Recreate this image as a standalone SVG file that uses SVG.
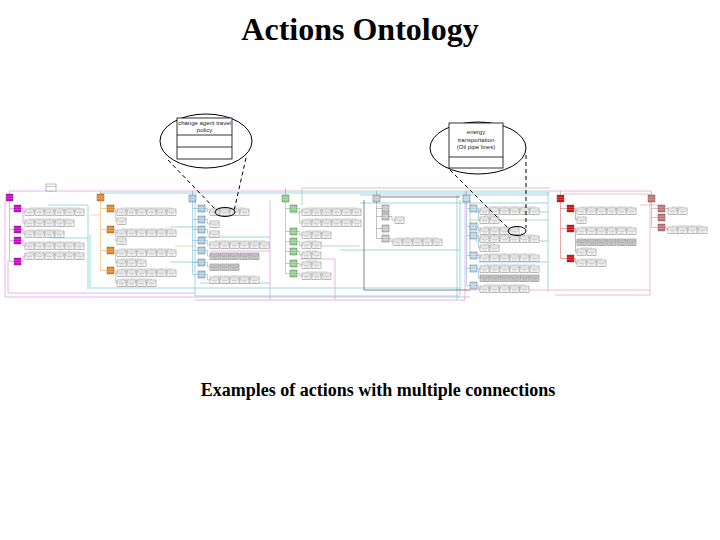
<svg xmlns="http://www.w3.org/2000/svg" width="720" height="540" viewBox="0 0 720 540">
<style>
.t{font-family:"Liberation Serif","Times New Roman",serif;font-weight:bold;fill:#000}
.ct{font-family:"Liberation Sans",Arial,sans-serif;font-size:6px;fill:#222;text-anchor:middle}
.ln{fill:none;stroke-width:0.8}
.pk{stroke:#e2a2e2}
.cy{stroke:#7fcfdc}
.dk{stroke:#666}
.gr{stroke:#9fd49f}
.rd{stroke:#eeb0b0}
.or{stroke:#f3c98f}
.tr{fill:none;stroke-width:0.6}
.co{fill:#fff;stroke:#000;stroke-width:1}
.dash{fill:none;stroke:#000;stroke-width:1;stroke-dasharray:4 3}
</style>
<defs>
<g id="nd"><rect width="7" height="7" fill="currentColor" stroke="#555" stroke-width="0.4"/><path d="M0 2.3H7M0 4.6H7" stroke="#fff" stroke-width="0.4" opacity="0.6"/></g>
<g id="b"><rect width="9" height="6.5" fill="#fff" stroke="#777" stroke-width="0.5"/><path d="M0 2H9" stroke="#777" stroke-width="0.4"/><path d="M1.5 3.5H7.5M2 5H7" stroke="#bbb" stroke-width="0.7"/></g>
<g id="bg"><rect width="9" height="6.5" fill="#d0d0d0" stroke="#777" stroke-width="0.5"/><path d="M0 2H9" stroke="#777" stroke-width="0.4"/><path d="M1.5 3.5H7.5M2 5H7" stroke="#a8a8a8" stroke-width="0.7"/></g>
<g id="r1"><use href="#b"/></g>
<g id="r2"><path d="M4.5 -1.2H14.5M4.5 -1.2V0M14.5 -1.2V0" stroke="#aaa" stroke-width="0.4" fill="none"/><use href="#b"/><use href="#b" x="10"/></g>
<g id="r3"><path d="M4.5 -1.2H24.5M4.5 -1.2V0M14.5 -1.2V0M24.5 -1.2V0" stroke="#aaa" stroke-width="0.4" fill="none"/><use href="#b"/><use href="#b" x="10"/><use href="#b" x="20"/></g>
<g id="r4"><path d="M4.5 -1.2H34.5M4.5 -1.2V0M14.5 -1.2V0M24.5 -1.2V0M34.5 -1.2V0" stroke="#aaa" stroke-width="0.4" fill="none"/><use href="#b"/><use href="#b" x="10"/><use href="#b" x="20"/><use href="#b" x="30"/></g>
<g id="r5"><path d="M4.5 -1.2H44.5M4.5 -1.2V0M14.5 -1.2V0M24.5 -1.2V0M34.5 -1.2V0M44.5 -1.2V0" stroke="#aaa" stroke-width="0.4" fill="none"/><use href="#b"/><use href="#b" x="10"/><use href="#b" x="20"/><use href="#b" x="30"/><use href="#b" x="40"/></g>
<g id="r6"><path d="M4.5 -1.2H54.5M4.5 -1.2V0M14.5 -1.2V0M24.5 -1.2V0M34.5 -1.2V0M44.5 -1.2V0M54.5 -1.2V0" stroke="#aaa" stroke-width="0.4" fill="none"/><use href="#b"/><use href="#b" x="10"/><use href="#b" x="20"/><use href="#b" x="30"/><use href="#b" x="40"/><use href="#b" x="50"/></g>
<g id="g3"><use href="#bg"/><use href="#bg" x="10"/><use href="#bg" x="20"/></g>
<g id="g5"><use href="#g3"/><use href="#bg" x="30"/><use href="#bg" x="40"/></g>
<g id="g6"><use href="#g5"/><use href="#bg" x="50"/></g>
</defs>

<text class="t" x="360" y="40" font-size="32" text-anchor="middle">Actions Ontology</text>
<text class="t" x="378" y="396" font-size="18" text-anchor="middle">Examples of actions with multiple connections</text>

<g id="connectors">
<path class="ln pk" d="M9.5 191H651M5 201V297H470M8 260V293H195M270 200V300M195 300H465M465 191V300M210 251H270M300 259H335V300M470 200V255H480"/>
<path class="ln cy" d="M100 193H550M360 195H548M360 203H548M48 205H88V290M90 235V288H460M195 200V296H460M170 227H200M170 262H200M548 192V292M475 212H548M475 241H548M457 195V300M200 237H270M200 283H270M460 200V295M50 238H88M478 262H548M340 250H460"/>
<path class="ln dk" d="M364 200V290H470M376.5 197H460"/>
<path class="ln gr" d="M302 205V188H550M290 213H300M470 220H548M300 246H360"/>
<path class="ln rd" d="M563 194H650V295H555M640 205H658M470 290H650"/>
<path class="ln or" d="M100 215H90M175 246H195"/>
<path class="tr" stroke="#999" d="M51 191V192M9.5 191V194M100.5 191V194M192.5 191V195M285.5 188V195M376.5 191V195M466.5 191V195M560.5 191V195M651.5 191V195"/>
<path class="tr" stroke="#e070e0" d="M9.5 201V261.5M9.5 208.5H14M9.5 229.5H14M9.5 240.5H14M9.5 261.5H14M21 208.5H23V223H25M23 212H25M21 229.5H23V234H25M21 240.5H23V246H25M21 261.5H23V256H25"/>
<path class="tr" stroke="#f0b060" d="M100.5 201V270.5M100.5 208.5H107M100.5 229.5H107M100.5 250.5H107M100.5 270.5H107M114 208.5H115.5V221H117M115.5 212H117M114 229.5H115.5V241H117M115.5 233H117M114 250.5H115.5V263H117M115.5 253H117M114 270.5H115.5V283H117M115.5 273H117"/>
<path class="tr" stroke="#80b8d8" d="M192.5 202V274.5M192.5 208.5H198M192.5 219.5H198M192.5 229.5H198M192.5 240.5H198M192.5 250.5H198M192.5 262.5H198M192.5 274.5H198M205 208.5H207.5V212H210M205 219.5H207.5V224H210M205 229.5H207.5V234H210M205 240.5H207.5V245H210M205 250.5H207.5V256H210M205 262.5H207.5V267H210M205 274.5H207.5V280H210"/>
<path class="tr" stroke="#7cc47c" d="M285.5 202V273.5M285.5 208.5H290M285.5 231.5H290M285.5 241.5H290M285.5 251.5H290M285.5 263.5H290M285.5 273.5H290M297 208.5H299.5V223H302M299.5 212H302M297 231.5H299.5V235H302M297 241.5H299.5V245H302M297 251.5H299.5V255H302M297 263.5H299.5V265H302M297 273.5H299.5V276H302"/>
<path class="tr" stroke="#999" d="M376.5 202V238.5M376.5 208.5H382M376.5 216.5H382M376.5 228.5H382M376.5 238.5H382M389 216.5H392V220H395M389 238.5H391V242H393"/>
<path class="tr" stroke="#80b8d8" d="M466.5 202V285.5M466.5 208.5H470M466.5 226.5H470M466.5 235.5H470M466.5 255.5H470M466.5 268.5H470M466.5 285.5H470M477 208.5H478.5V220H480M478.5 211H480M477 226.5H478.5V231H480M477 235.5H478.5V248H480M478.5 239H480M477 255.5H478.5V258H480M477 268.5H478.5V278H480M478.5 269H480M477 285.5H478.5V289H480"/>
<path class="tr" stroke="#e07070" d="M560.5 202V258.5M560.5 208.5H567M560.5 228.5H567M560.5 258.5H567M574 208.5H575.5V220H577M575.5 211H577M574 228.5H575.5V252H577M575.5 231H577M575.5 242H577M574 258.5H575.5V263H577"/>
<path class="tr" stroke="#d09090" d="M651.5 202V227.5M651.5 208.5H658M651.5 217.5H658M651.5 227.5H658M665 208.5H668M665 227.5H666.5V230H668"/>
</g>

<g id="root-action"><rect x="46" y="184" width="10" height="7" fill="#fff" stroke="#777" stroke-width="0.5"/><path d="M46 186.5H56" stroke="#777" stroke-width="0.4"/></g>

<g id="magenta-nodes" style="color:#cc00cc">
<g id="m0"><use href="#nd" x="6" y="194"/></g>
<g id="m1"><use href="#nd" x="14" y="205"/></g>
<g id="m2"><use href="#nd" x="14" y="226"/></g>
<g id="m3"><use href="#nd" x="14" y="237"/></g>
<g id="m4"><use href="#nd" x="14" y="258"/></g>
</g>
<g id="magenta-rows"><use href="#r6" x="25" y="209"/><use href="#r5" x="25" y="220"/><use href="#r4" x="25" y="231"/><use href="#r6" x="25" y="243"/><use href="#r6" x="25" y="253"/></g>

<g id="orange-nodes" style="color:#e8871e">
<g id="o0"><use href="#nd" x="97" y="194"/></g>
<g id="o1"><use href="#nd" x="107" y="205"/></g>
<g id="o2"><use href="#nd" x="107" y="226"/></g>
<g id="o3"><use href="#nd" x="107" y="247"/></g>
<g id="o4"><use href="#nd" x="107" y="267"/></g>
</g>
<g id="orange-rows"><use href="#r6" x="117" y="209"/><use href="#r1" x="117" y="218"/><use href="#r6" x="117" y="230"/><use href="#r1" x="117" y="238"/><use href="#r6" x="117" y="250"/><use href="#r3" x="117" y="260"/><use href="#r6" x="117" y="270"/><use href="#r4" x="117" y="280"/></g>

<g id="teal-nodes" style="color:#a9cfe6">
<g id="t0"><use href="#nd" x="189" y="195"/></g>
<g id="t1"><use href="#nd" x="198" y="205"/></g>
<g id="t2"><use href="#nd" x="198" y="216"/></g>
<g id="t3"><use href="#nd" x="198" y="226"/></g>
<g id="t4"><use href="#nd" x="198" y="237"/></g>
<g id="t5"><use href="#nd" x="198" y="247"/></g>
<g id="t6"><use href="#nd" x="198" y="259"/></g>
<g id="t7"><use href="#nd" x="198" y="271"/></g>
</g>
<g id="teal-rows"><use href="#r4" x="210" y="209"/><use href="#r1" x="210" y="221"/><use href="#r1" x="210" y="231"/><use href="#r6" x="210" y="242"/><use href="#g5" x="210" y="253"/><use href="#g3" x="210" y="264"/><use href="#r5" x="210" y="277"/></g>

<g id="green-nodes" style="color:#8fd18f">
<g id="g0"><use href="#nd" x="282" y="195"/></g>
<g id="gn1"><use href="#nd" x="290" y="205"/></g>
<g id="gn2"><use href="#nd" x="290" y="228"/></g>
<g id="gn3"><use href="#nd" x="290" y="238"/></g>
<g id="gn4"><use href="#nd" x="290" y="248"/></g>
<g id="gn5"><use href="#nd" x="290" y="260"/></g>
<g id="gn6"><use href="#nd" x="290" y="270"/></g>
</g>
<g id="green-rows"><use href="#r6" x="302" y="209"/><use href="#r6" x="302" y="220"/><use href="#r3" x="302" y="232"/><use href="#r2" x="302" y="242"/><use href="#r2" x="302" y="252"/><use href="#r2" x="302" y="262"/><use href="#r3" x="302" y="273"/></g>

<g id="gray-nodes" style="color:#c8c8c8">
<g id="k0"><use href="#nd" x="373" y="195"/></g>
<g id="k1"><use href="#nd" x="382" y="205"/></g>
<g id="k2"><use href="#nd" x="382" y="213"/></g>
<g id="k3"><use href="#nd" x="382" y="225"/></g>
<g id="k4"><use href="#nd" x="382" y="235"/></g>
</g>
<g id="gray-rows"><use href="#r1" x="395" y="217"/><use href="#r5" x="393" y="239"/></g>

<g id="blue-nodes" style="color:#bcd6e8">
<g id="q0"><use href="#nd" x="463" y="195"/></g>
<g id="q1"><use href="#nd" x="470" y="205"/></g>
<g id="q2"><use href="#nd" x="470" y="223"/></g>
<g id="q3"><use href="#nd" x="470" y="232"/></g>
<g id="q4"><use href="#nd" x="470" y="252"/></g>
<g id="q5"><use href="#nd" x="470" y="265"/></g>
<g id="q6"><use href="#nd" x="470" y="282"/></g>
</g>
<g id="blue-rows"><use href="#r6" x="480" y="208"/><use href="#r2" x="480" y="217"/><use href="#r4" x="480" y="228"/><use href="#r6" x="480" y="236"/><use href="#r2" x="480" y="245"/><use href="#r6" x="480" y="255"/><use href="#r6" x="480" y="266"/><use href="#g6" x="480" y="275"/><use href="#r5" x="480" y="286"/></g>

<g id="red-nodes" style="color:#d01010">
<g id="rd0"><use href="#nd" x="557" y="195"/></g>
<g id="rd1"><use href="#nd" x="567" y="205"/></g>
<g id="rd2"><use href="#nd" x="567" y="225"/></g>
<g id="rd3"><use href="#nd" x="567" y="255"/></g>
</g>
<g id="red-rows"><use href="#r6" x="577" y="208"/><use href="#r1" x="577" y="217"/><use href="#r6" x="577" y="228"/><use href="#g6" x="577" y="239"/><use href="#r2" x="577" y="249"/><use href="#r3" x="577" y="260"/></g>

<g id="darkred-nodes" style="color:#c27272">
<g id="dr0"><use href="#nd" x="648" y="195"/></g>
<g id="dr1"><use href="#nd" x="658" y="205"/></g>
<g id="dr2"><use href="#nd" x="658" y="214"/></g>
<g id="dr3"><use href="#nd" x="658" y="224"/></g>
</g>
<g id="darkred-rows"><use href="#r2" x="668" y="208"/><use href="#r4" x="668" y="227"/></g>

<g id="callout-1">
<path class="dash" d="M168 160L217 211M246 158L234 211"/>
<ellipse class="co" cx="206" cy="141" rx="46" ry="27"/>
<rect x="177" y="118" width="55" height="41" fill="#fff" stroke="#000" stroke-width="0.8"/>
<path d="M177 135H232M177 147H232" stroke="#000" stroke-width="0.8"/>
<text class="ct" x="204.5" y="125" font-size="6.5">change agent travel</text>
<text class="ct" x="204.5" y="132" font-size="6.5">policy</text>
<ellipse cx="225" cy="212" rx="10" ry="4.5" fill="none" stroke="#000" stroke-width="1"/>
</g>

<g id="callout-2">
<path class="dash" d="M450 170L509 229M526 155V228"/>
<ellipse class="co" cx="478" cy="148" rx="48" ry="26"/>
<rect x="449" y="123" width="54" height="45" fill="#fff" stroke="#000" stroke-width="0.8"/>
<path d="M449 157H503" stroke="#000" stroke-width="0.8"/>
<text class="ct" x="476" y="134">energy</text>
<text class="ct" x="476" y="141.5">transportation</text>
<text class="ct" x="476" y="149">(Oil pipe lines)</text>
<ellipse cx="517" cy="231" rx="9" ry="4.5" fill="none" stroke="#000" stroke-width="1"/>
</g>
</svg>
